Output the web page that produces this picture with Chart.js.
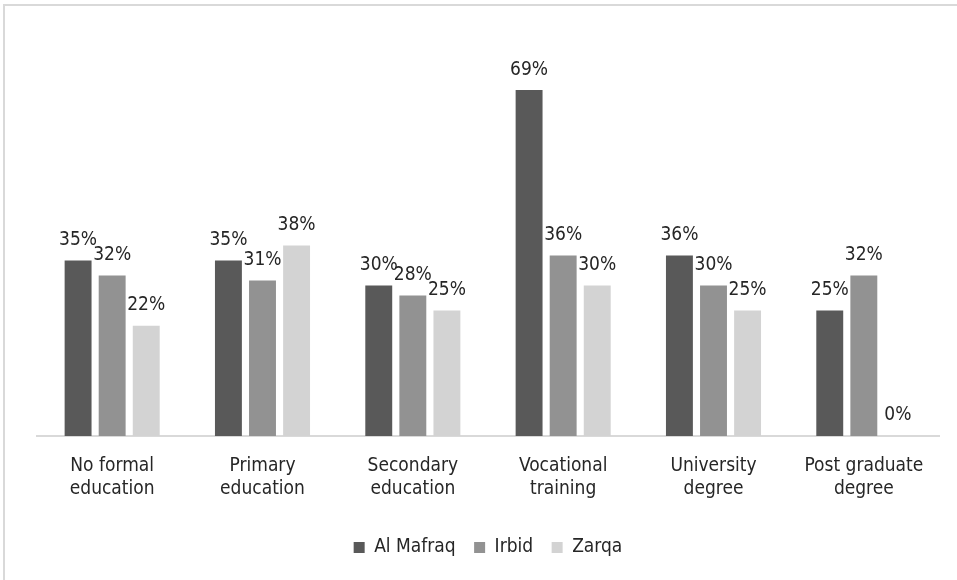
<!DOCTYPE html>
<html>
<head>
<meta charset="utf-8">
<script src="https://cdn.jsdelivr.net/npm/chart.js@4"></script>
<style>
  html, body { margin: 0; padding: 0; background: #fff; }
  #wrap { position: relative; width: 957px; height: 580px; }
  #frame { position: absolute; left: 3px; top: 4px; right: -10px; bottom: -10px;
           border-top: 2px solid #d9d9d9; border-left: 2px solid #d9d9d9; }
  canvas { position: absolute; left: 0; top: 0; }
</style>
</head>
<body>
<div id="wrap">
  <div id="frame"></div>
  <canvas id="barChart" width="957" height="580"></canvas>
</div>
<script>
const categories = [
  ["No formal", "education"],
  ["Primary", "education"],
  ["Secondary", "education"],
  ["Vocational", "training"],
  ["University", "degree"],
  ["Post graduate", "degree"]
];
const alMafraq = [35, 35, 30, 69, 36, 25];
const irbid = [32, 31, 28, 36, 30, 32];
const zarqa = [22, 38, 25, 30, 25, 0];

const fontFamily = "'Liberation Sans Narrow', 'Arial Narrow', 'DejaVu Sans Condensed', sans-serif";

// draw the % labels above each bar
const valueLabels = {
  id: 'valueLabels',
  afterDatasetsDraw(chart) {
    const ctx = chart.ctx;
    ctx.save();
    ctx.font = "19px " + fontFamily;
    ctx.fillStyle = '#262626';
    ctx.textAlign = 'center';
    ctx.textBaseline = 'bottom';
    chart.data.datasets.forEach((ds, i) => {
      chart.getDatasetMeta(i).data.forEach((bar, j) => {
        ctx.fillText(ds.data[j] + '%', bar.x, bar.y - 11);
      });
    });
    ctx.restore();
  }
};

const ctx = document.getElementById('barChart').getContext('2d');
new Chart(ctx, {
  type: 'bar',
  data: {
    labels: categories,
    datasets: [
      { label: 'Al Mafraq', data: alMafraq, backgroundColor: '#595959' },
      { label: 'Irbid', data: irbid, backgroundColor: '#929292' },
      { label: 'Zarqa', data: zarqa, backgroundColor: '#d3d3d3' }
    ]
  },
  options: {
    responsive: false,
    animation: false,
    categoryPercentage: 0.68,
    barPercentage: 0.79,
    layout: { padding: { left: 37, right: 18, top: 60, bottom: 13 } },
    plugins: {
      legend: {
        position: 'bottom',
        labels: {
          boxWidth: 11,
          boxHeight: 11,
          padding: 18.5,
          color: '#262626',
          font: { family: fontFamily, size: 19 }
        }
      },
      tooltip: { enabled: false }
    },
    scales: {
      x: {
        grid: { display: false, drawTicks: false },
        border: { color: '#d9d9d9', width: 2 },
        ticks: {
          maxRotation: 0,
          autoSkip: false,
          padding: 19,
          color: '#262626',
          font: { family: fontFamily, size: 19, lineHeight: 1.2 }
        }
      },
      y: {
        display: false,
        min: 0,
        max: 75
      }
    }
  },
  plugins: [valueLabels]
});
</script>
</body>
</html>
